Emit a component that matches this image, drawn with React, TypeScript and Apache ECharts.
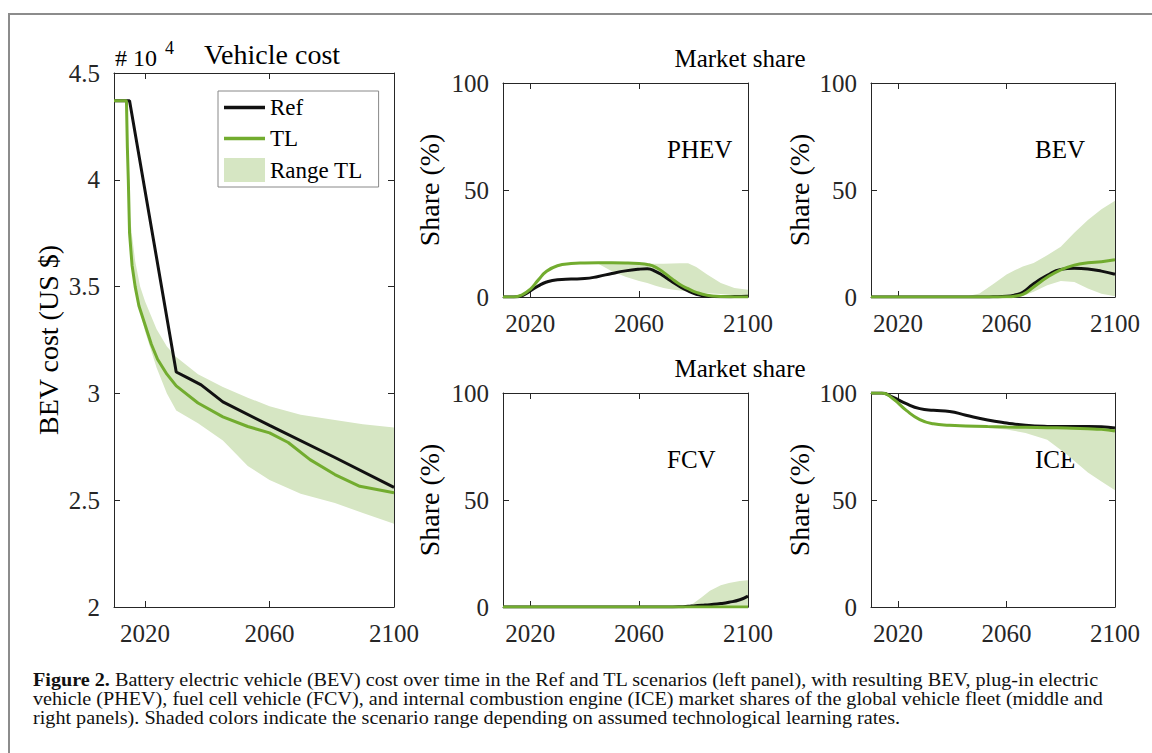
import React, { useEffect, useRef } from "react";
import * as echarts from "echarts";

// ---------- DATA ----------
const xTicks = [2020, 2060, 2100];

// Left panel: BEV cost (x 10^4 US$)
const refCostYears = [2010, 2015, 2030, 2034, 2038, 2045, 2060, 2081, 2100];
const refCost = [4.37, 4.37, 3.10, 3.07, 3.04, 2.96, 2.85, 2.70, 2.56];

const tlCostYears = [2010, 2014, 2014.3, 2014.6, 2015, 2015.8, 2016.8, 2018, 2020, 2022, 2024, 2027, 2030, 2037, 2045, 2053, 2060, 2066, 2073, 2081, 2089, 2100];
const tlCost = [4.37, 4.37, 4.15, 4.0, 3.75, 3.6, 3.5, 3.41, 3.32, 3.23, 3.16, 3.09, 3.035, 2.955, 2.89, 2.845, 2.815, 2.77, 2.69, 2.62, 2.565, 2.535];

const bandCostYears = [2010, 2014, 2014.6, 2015, 2015.7, 2016.8, 2018.4, 2020, 2023.7, 2027, 2030, 2037, 2045, 2053, 2060, 2070, 2081, 2090, 2100];
const bandCostHi = [4.37, 4.37, 4.05, 3.85, 3.75, 3.62, 3.5, 3.43, 3.30, 3.22, 3.17, 3.09, 3.03, 2.98, 2.94, 2.90, 2.875, 2.855, 2.84];
const bandCostLo = [4.37, 4.37, 4.0, 3.75, 3.6, 3.5, 3.38, 3.29, 3.12, 3.0, 2.92, 2.86, 2.78, 2.66, 2.595, 2.53, 2.487, 2.44, 2.39];

// PHEV share (%)
const phevYears = [2010, 2014, 2017, 2020, 2023, 2026, 2030, 2035, 2040, 2045, 2050, 2055, 2060, 2063, 2066, 2069, 2072, 2075, 2078, 2081, 2085, 2090, 2095, 2100];
const phevTL = [0, 0, 1.0, 3.6, 8.0, 12.0, 14.6, 15.6, 15.9, 16.0, 16.0, 15.9, 15.6, 15.2, 14.0, 11.5, 8.6, 5.8, 3.9, 2.2, 0.8, 0.2, 0, 0];
const phevRef = [0, 0, 0.6, 2.8, 5.2, 7.0, 8.1, 8.4, 8.6, 9.6, 11.0, 12.2, 13.0, 13.2, 12.0, 9.8, 7.2, 4.8, 2.8, 1.3, 0.3, 0.1, 0.2, 0.4];
const phevHi = [0, 0, 1.0, 3.6, 8.0, 12.0, 14.6, 15.6, 15.9, 16.0, 16.0, 15.9, 15.6, 15.5, 15.5, 15.5, 15.6, 15.8, 15.8, 14.0, 10.5, 6.5, 4.2, 3.4];
const phevLo = [0, 0, 1.0, 3.6, 8.0, 12.0, 14.6, 15.6, 15.9, 15.5, 12.0, 9.5, 7.5, 6.5, 5.2, 4.2, 3.5, 3.0, 2.6, 2.2, 1.8, 1.4, 0.8, 0.3];

// BEV share (%)
const bevYears = [2010, 2040, 2045, 2050, 2055, 2060, 2063, 2066, 2070, 2075, 2080, 2085, 2090, 2095, 2100];
const bevTL = [0, 0, 0, 0, 0, 0.1, 0.4, 1.2, 4.7, 9.2, 12.7, 14.9, 16.0, 16.5, 17.4];
const bevRef = [0, 0, 0, 0, 0.1, 0.3, 0.9, 2.2, 6.2, 10.1, 12.9, 13.4, 13.1, 12.1, 10.6];
const bevHi = [0, 0, 0.2, 1.6, 6.0, 10.5, 12.5, 14.2, 15.9, 19.5, 23.5, 30, 36, 41, 45];
const bevLo = [0, 0, 0, 0, 0, 0, 0.1, 0.5, 2.5, 5.5, 7.5, 7, 4, 1.5, 0.3];

// FCV share (%)
const fcvYears = [2010, 2070, 2075, 2078, 2080, 2083, 2086, 2090, 2093, 2097, 2100];
const fcvTL = [0, 0, 0, 0, 0, 0, 0, 0, 0, 0, 0];
const fcvRef = [0, 0, 0.1, 0.3, 0.5, 0.8, 1.1, 1.6, 2.2, 3.4, 5.1];
const fcvHi = [0, 0, 0, 0.3, 1.8, 4.5, 7.6, 10.2, 11.2, 12.1, 12.5];
const fcvLo = [0, 0, 0, 0, 0, 0, 0, 0, 0, 0, 0];

// ICE share (%)
const iceYears = [2010, 2014, 2018, 2023, 2028, 2033, 2039, 2045, 2053, 2060, 2067, 2075, 2082, 2090, 2095, 2100];
const iceTL = [100, 100, 97.4, 91.9, 87.6, 85.6, 84.9, 84.6, 84.3, 84.1, 84.0, 83.8, 83.6, 83.3, 83.0, 82.2];
const iceRef = [100, 100, 98.1, 95.0, 92.7, 91.9, 91.4, 89.6, 87.4, 86.0, 84.9, 84.4, 84.3, 84.3, 84.2, 83.6];
const iceHi = [100, 100, 97.4, 91.9, 87.6, 85.6, 84.9, 84.6, 84.3, 84.1, 84.0, 83.8, 83.9, 84.0, 83.9, 83.5];
const iceLo = [100, 100, 97.4, 91.9, 87.6, 85.2, 84.3, 84.0, 83.6, 83.0, 81.3, 78.2, 71.5, 62.8, 58.7, 54.5];

const panelLabels = ["PHEV", "BEV", "FCV", "ICE"];
const captionLines = [
  "{b|Figure 2.} Battery electric vehicle (BEV) cost over time in the Ref and TL scenarios (left panel), with resulting BEV, plug-in electric",
  "vehicle (PHEV), fuel cell vehicle (FCV), and internal combustion engine (ICE) market shares of the global vehicle fleet (middle and",
  "right panels). Shaded colors indicate the scenario range depending on assumed technological learning rates.",
];

// ---------- STYLE ----------
const FONT = "Liberation Serif";
const GREEN = "#72ac2f";
const BLACK = "#111111";
const BAND = "#d6e6c3";
const AXIS = "#262626";
const LINE_ICON = "path://M0,0 L41,0 L41,3.5 L0,3.5 Z";

const pairs = (xs: number[], ys: number[]) => xs.map((x, i) => [x, ys[i]]);

export default function App() {
  const ref = useRef<HTMLDivElement>(null);

  useEffect(() => {
    if (!ref.current) return;
    const chart = echarts.init(ref.current, undefined, { renderer: "svg" });

    const grids = [
      { left: 114, top: 73, width: 280, height: 534 },
      { left: 503, top: 83, width: 245, height: 214 },
      { left: 871, top: 83, width: 244, height: 214 },
      { left: 503, top: 393, width: 245, height: 214 },
      { left: 871, top: 393, width: 244, height: 214 },
    ];

    const lineStyle = { color: AXIS, width: 1 };
    const labelStyle = { fontSize: 25, fontFamily: FONT, color: AXIS };
    const xAxes: any[] = [];
    const yAxes: any[] = [];
    grids.forEach((_g, i) => {
      const isCost = i === 0;
      xAxes.push({
        gridIndex: i, type: "value", min: 2010, max: 2100, position: "bottom",
        axisLine: { show: true, onZero: false, lineStyle },
        axisTick: { show: true, inside: true, length: 6, customValues: xTicks, lineStyle },
        axisLabel: { customValues: xTicks, margin: 14, ...labelStyle, formatter: (v: number) => String(v) },
        splitLine: { show: false },
      });
      xAxes.push({
        gridIndex: i, type: "value", min: 2010, max: 2100, position: "top",
        axisLine: { show: true, onZero: false, lineStyle },
        axisTick: { show: true, inside: true, length: 6, customValues: xTicks, lineStyle },
        axisLabel: { show: false },
        splitLine: { show: false },
      });
      const yBase = isCost
        ? { min: 2, max: 4.5, interval: 0.5 }
        : { min: 0, max: 100, interval: 50 };
      yAxes.push({
        gridIndex: i, type: "value", position: "left", ...yBase,
        name: isCost ? "BEV cost (US $)" : "Share (%)",
        nameLocation: "middle",
        nameGap: isCost ? 52 : (i === 1 || i === 3 ? 60 : 58),
        nameTextStyle: { fontSize: 28, fontFamily: FONT, color: "#000" },
        axisLine: { show: true, onZero: false, lineStyle },
        axisTick: { show: true, inside: true, length: 6, lineStyle },
        axisLabel: { margin: 14, ...labelStyle, formatter: (v: number) => String(v) },
        splitLine: { show: false },
      });
      yAxes.push({
        gridIndex: i, type: "value", position: "right", ...yBase,
        axisLine: { show: true, onZero: false, lineStyle },
        axisTick: { show: true, inside: true, length: 6, lineStyle },
        axisLabel: { show: false },
        splitLine: { show: false },
      });
    });

    const panels = [
      { years: [refCostYears, tlCostYears], ref: refCost, tl: tlCost, bandYears: bandCostYears, hi: bandCostHi, lo: bandCostLo, smooth: false },
      { years: [phevYears, phevYears], ref: phevRef, tl: phevTL, bandYears: phevYears, hi: phevHi, lo: phevLo, smooth: 0.5 },
      { years: [bevYears, bevYears], ref: bevRef, tl: bevTL, bandYears: bevYears, hi: bevHi, lo: bevLo, smooth: 0.5 },
      { years: [fcvYears, fcvYears], ref: fcvRef, tl: fcvTL, bandYears: fcvYears, hi: fcvHi, lo: fcvLo, smooth: 0.5 },
      { years: [iceYears, iceYears], ref: iceRef, tl: iceTL, bandYears: iceYears, hi: iceHi, lo: iceLo, smooth: 0.5 },
    ];

    const series: any[] = [];
    panels.forEach((p, i) => {
      const by = p.bandYears, hi = p.hi, lo = p.lo;
      series.push({
        type: "custom",
        name: "Range TL",
        xAxisIndex: 2 * i, yAxisIndex: 2 * i,
        clip: true,
        silent: true,
        itemStyle: { color: BAND },
        data: [[by[0], lo[0]]],
        renderItem: (_params: any, api: any) => {
          const pts: number[][] = [];
          for (let k = 0; k < by.length; k++) pts.push(api.coord([by[k], hi[k]]));
          for (let k = by.length - 1; k >= 0; k--) pts.push(api.coord([by[k], lo[k]]));
          return { type: "polygon", shape: { points: pts }, style: { fill: BAND, stroke: null } };
        },
      });
      series.push({
        type: "line", name: "Ref", xAxisIndex: 2 * i, yAxisIndex: 2 * i,
        data: pairs(p.years[0], p.ref), showSymbol: false, symbol: "none",
        smooth: p.smooth,
        lineStyle: { color: BLACK, width: 3 }, itemStyle: { color: BLACK },
      });
      series.push({
        type: "line", name: "TL", xAxisIndex: 2 * i, yAxisIndex: 2 * i,
        data: pairs(p.years[1], p.tl), showSymbol: false, symbol: "none",
        smooth: p.smooth,
        lineStyle: { color: GREEN, width: 3 }, itemStyle: { color: GREEN },
      });
    });

    const labelPos = [
      { x: 667, y: 149 },
      { x: 1035, y: 149 },
      { x: 667, y: 459 },
      { x: 1035, y: 459 },
    ];

    const graphic: any[] = [
      { type: "rect", shape: { x: 9, y: 14, width: 1200, height: 800 }, style: { fill: "none", stroke: "#8c8c8c", lineWidth: 2 }, silent: true, z: -1 },
      { type: "text", x: 115, y: 58, style: { text: "# 10", fontFamily: FONT, fontSize: 24, fill: "#000", verticalAlign: "middle" } },
      { type: "text", x: 165, y: 48, style: { text: "4", fontFamily: FONT, fontSize: 18, fill: "#000", verticalAlign: "middle" } },
      { type: "text", x: 204, y: 54, style: { text: "Vehicle cost", fontFamily: FONT, fontSize: 28, fill: "#000", verticalAlign: "middle" } },
      { type: "text", x: 740, y: 58, style: { text: "Market share", fontFamily: FONT, fontSize: 25, fill: "#000", align: "center", verticalAlign: "middle" } },
      { type: "text", x: 740, y: 368, style: { text: "Market share", fontFamily: FONT, fontSize: 25, fill: "#000", align: "center", verticalAlign: "middle" } },
    ];
    panelLabels.forEach((t, i) => {
      graphic.push({ type: "text", x: labelPos[i].x, y: labelPos[i].y, style: { text: t, fontFamily: FONT, fontSize: 25, fill: "#000", verticalAlign: "middle" } });
    });
    const capY = [680, 699, 718];
    captionLines.forEach((t, i) => {
      graphic.push({
        type: "text", x: 33, y: capY[i], scaleX: 1.12, originX: 0,
        style: {
          text: t, fill: "#111", verticalAlign: "middle",
          fontFamily: FONT, fontSize: 18, lineHeight: 18,
          rich: { b: { fontWeight: "bold", fontFamily: FONT, fontSize: 18, lineHeight: 18, fill: "#111" } },
        },
      });
    });

    chart.setOption({
      animation: false,
      backgroundColor: "#ffffff",
      grid: grids,
      xAxis: xAxes,
      yAxis: yAxes,
      legend: {
        data: [
          { name: "Ref", icon: LINE_ICON, itemStyle: { color: BLACK } },
          { name: "TL", icon: LINE_ICON, itemStyle: { color: GREEN } },
          { name: "Range TL", icon: "rect", itemStyle: { color: BAND } },
        ],
        orient: "vertical",
        left: 218, top: 91,
        itemWidth: 41, itemHeight: 24, itemGap: 8,
        padding: [5, 16, 5, 6],
        borderColor: "#888", borderWidth: 1,
        backgroundColor: "#fff",
        selectedMode: false,
        textStyle: { fontFamily: FONT, fontSize: 23, color: "#000" },
      },
      graphic,
      series,
    });

    return () => chart.dispose();
  }, []);

  return <div ref={ref} style={{ position: "fixed", left: 0, top: 0, width: 1152, height: 753 }} />;
}
